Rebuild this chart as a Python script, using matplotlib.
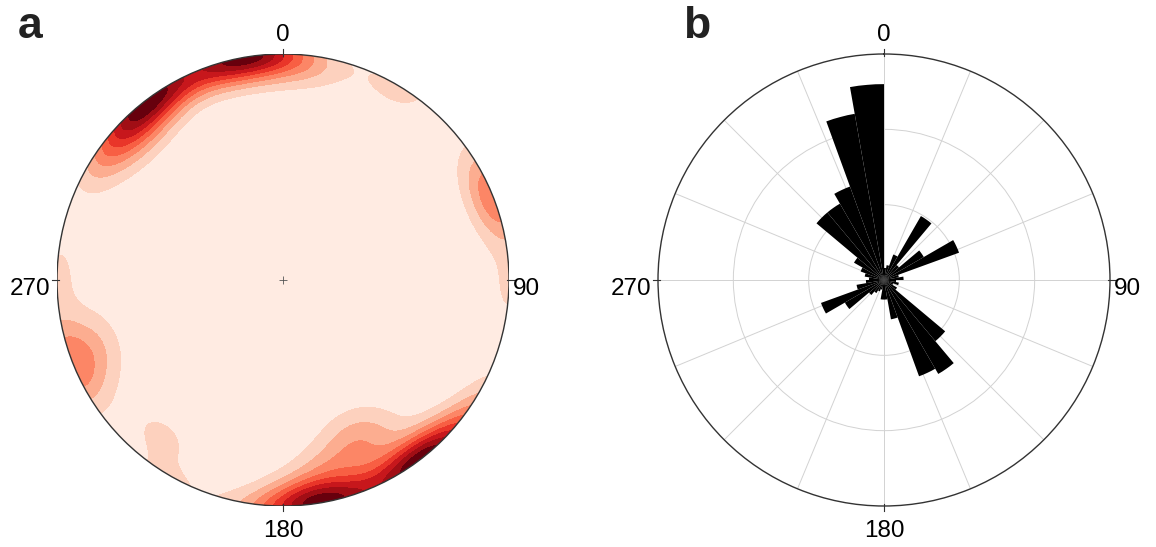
import numpy as np
import matplotlib
matplotlib.use('Agg')
import matplotlib.pyplot as plt
from matplotlib.patches import Circle

plt.rcParams['font.family'] = ['Liberation Sans', 'DejaVu Sans']

# poles to fracture planes (trend, plunge in degrees)
pole_trend = [350, 352, 348, 355, 346, 172, 175,
              322, 325, 320, 327, 143, 140,
              332, 337, 341, 315, 309, 303, 2, 7,
              312, 320, 160, 150, 168, 155,
              68, 72, 65, 248, 251,
              218, 30, 272]
pole_plunge = [0, 2, 1, 1, 2, 3, 4,
               1, 0, 2, 1, 3, 2,
               1, 2, 0, 2, 3, 5, 3, 5,
               12, 10, 18, 20, 15, 28,
               0, 3, 2, 8, 16,
               14, 3, 1]

# rose diagram: strike counts in 10 degree bins starting at 0
rose_start = list(range(0, 360, 10))
rose_counts = [0.8, 1.0, 1.8, 4.9, 1.3, 3.05, 5.3, 1.0, 1.3,
               0.8, 1.0, 0.65, 1.0, 5.3, 7.2, 6.8, 2.65, 1.3,
               1.3, 0.65, 0.8, 1.0, 1.3, 3.0, 4.45, 1.85, 1.2,
               1.0, 1.3, 1.65, 2.3, 5.85, 5.85, 6.6, 11.2, 13.0]
rose_max = 15

dir_labels = ['0', '90', '180', '270']

fig = plt.figure(figsize=(11.56, 5.47), dpi=100)

# ---- a: pole density, equal-area lower hemisphere ----
ax1 = fig.add_axes([57/1156, 41/547, 452/1156, 452/547])
n = 500
g = np.linspace(-1, 1, n)
X, Y = np.meshgrid(g, g)
R = np.clip(np.hypot(X, Y), 0, 1)
theta = 2*np.arcsin(R/np.sqrt(2))      # angle from vertical
az = np.arctan2(X, Y)
gx = np.sin(theta)*np.sin(az)
gy = np.sin(theta)*np.cos(az)
gz = np.cos(theta)

tr = np.radians(pole_trend)
pl = np.radians(pole_plunge)
px = np.cos(pl)*np.sin(tr)
py = np.cos(pl)*np.cos(tr)
pz = np.sin(pl)

k = 50.0
D = np.zeros_like(X)
for i in range(len(tr)):
    c = np.abs(gx*px[i] + gy*py[i] + gz*pz[i])
    D += np.exp(k*(c - 1))

levels = np.linspace(0, D.max()*1.0001, 10)
cols = plt.cm.Reds(np.linspace(0.06, 1.0, 9))
cs = ax1.contourf(X, Y, D, levels=levels, colors=cols)
clip = Circle((0, 0), 1, transform=ax1.transData)
cs.set_clip_path(clip)
ax1.add_patch(Circle((0, 0), 1, fill=False, ec='#333333', lw=1.0))
ax1.plot([0], [0], marker='+', ms=6, color='#555555', mew=0.6)
for a in range(4):
    t = np.radians(a*90)
    ax1.plot([0.99*np.sin(t), 1.02*np.sin(t)], [0.99*np.cos(t), 1.02*np.cos(t)],
             color='#333333', lw=0.8, clip_on=False)
ax1.set_xlim(-1, 1)
ax1.set_ylim(-1, 1)
ax1.set_aspect('equal')
ax1.axis('off')

# ---- b: rose diagram of strikes ----
ax2 = fig.add_axes([658/1156, 41/547, 452/1156, 452/547], projection='polar')
ax2.set_theta_zero_location('N')
ax2.set_theta_direction(-1)
ax2.bar(np.radians(rose_start), rose_counts, width=np.radians(10), align='edge',
        color='black', edgecolor='none', zorder=3)
ax2.set_ylim(0, rose_max)
ax2.set_yticks([5, 10])
ax2.set_yticklabels([])
ax2.set_xticks(np.radians(np.arange(0, 360, 22.5)))
ax2.set_xticklabels([])
ax2.grid(True, color='#d2d2d2', lw=0.7)
ax2.set_axisbelow(True)
ax2.spines['polar'].set_color('#333333')
ax2.spines['polar'].set_linewidth(1.0)
ax2.tick_params(axis='x', length=0)
for a in range(4):
    t = np.radians(a*90)
    ax2.plot([t, t], [rose_max*0.99, rose_max*1.02], color='#333333', lw=0.8, clip_on=False)

# direction labels
for ax in (ax1, ax2):
    ax.text(0.5, 1.018, dir_labels[0], transform=ax.transAxes, ha='center', va='bottom', fontsize=17.5)
    ax.text(1.009, 0.467, dir_labels[1], transform=ax.transAxes, ha='left', va='baseline', fontsize=17.5)
    ax.text(0.5, -0.03, dir_labels[2], transform=ax.transAxes, ha='center', va='top', fontsize=17.5)
    ax.text(-0.0155, 0.467, dir_labels[3], transform=ax.transAxes, ha='right', va='baseline', fontsize=17.5)

fig.text(18/1156, 1 - 38/547, 'a', fontsize=32, fontweight='bold', color='#222222')
fig.text(683/1156, 1 - 38/547, 'b', fontsize=32, fontweight='bold', color='#222222')

fig.savefig('out.png', dpi=100)
